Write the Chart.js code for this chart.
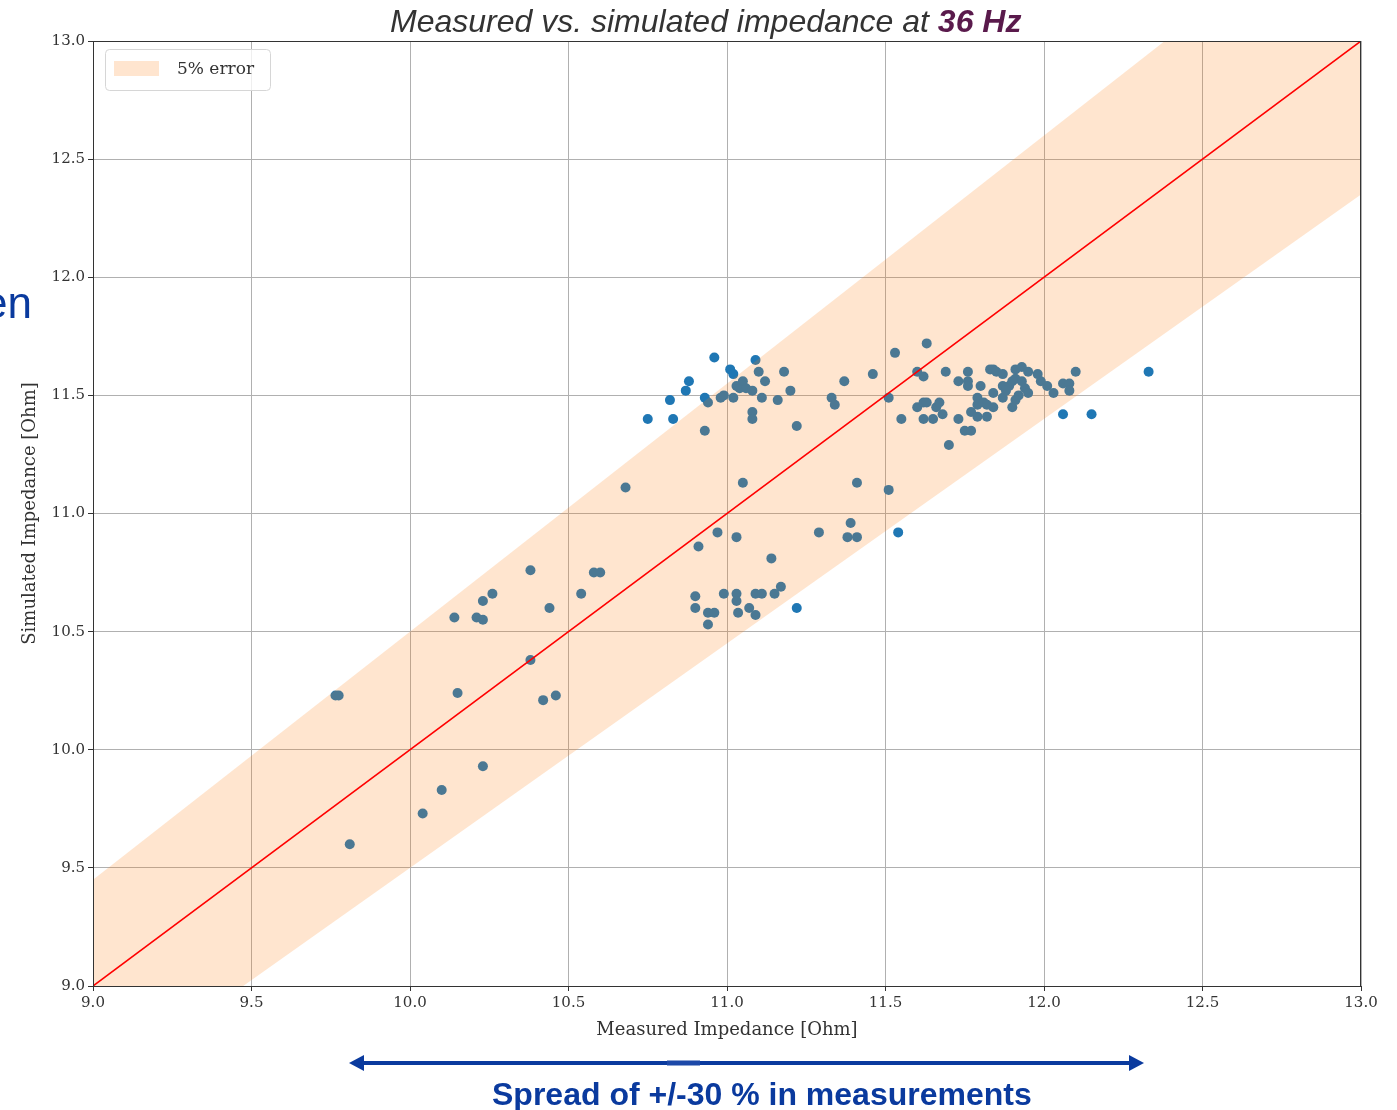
<!DOCTYPE html>
<html lang="en">

<head>
    <meta charset="UTF-8">
    <title>Measured vs. simulated impedance at 36 Hz</title>
    <script src="https://cdn.jsdelivr.net/npm/chart.js"></script>
    <style>
        body {
            margin: 0;
            background: #ffffff;
            width: 1397px;
            height: 1110px;
            position: relative;
            overflow: hidden;
        }

        #impChart {
            position: absolute;
            left: 0;
            top: 0;
        }

        .title {
            position: absolute;
            left: 390px;
            top: 3px;
            font-family: 'Liberation Sans', Arial, sans-serif;
            font-style: italic;
            font-size: 32px;
            color: #333333;
            white-space: nowrap;
        }

        .title b {
            color: #5a1a4c;
        }

        .side {
            position: absolute;
            left: -17px;
            top: 278px;
            font-family: 'Liberation Sans', Arial, sans-serif;
            font-size: 44px;
            color: #0a3a9e;
        }

        .spread {
            position: absolute;
            left: 492px;
            top: 1076px;
            font-family: 'Liberation Sans', Arial, sans-serif;
            font-weight: bold;
            font-size: 32px;
            color: #0a3a9e;
            white-space: nowrap;
        }

        svg {
            position: absolute;
            left: 0;
            top: 0;
        }
    </style>
</head>

<body>
    <canvas id="impChart" width="1397" height="1110"></canvas>
    <div class="title">Measured vs. simulated impedance at <b>36 Hz</b></div>
    <div class="side">en</div>
    <svg width="1397" height="1110">
        <line x1="360" y1="1063" x2="1133" y2="1063" stroke="#0a3a9e" stroke-width="4" />
        <line x1="667" y1="1063" x2="700" y2="1063" stroke="#1c48a8" stroke-width="5" />
        <polygon points="349,1063 364,1055 364,1071" fill="#0a3a9e" />
        <polygon points="1144,1063 1129,1055 1129,1071" fill="#0a3a9e" />
    </svg>
    <div class="spread">Spread of +/-30 % in measurements</div>

    <script>
        // measured / simulated impedance pairs [Ohm]
        const measured = [
            9.765, 9.775, 9.81, 10.04, 10.10, 10.23, 10.15, 10.14, 10.21, 10.23, 10.23, 10.26, 10.38, 10.38,
            10.44, 10.42, 10.46, 10.54, 10.58, 10.60, 10.68,
            11.05, 11.41, 11.51, 10.97, 11.03, 10.91, 11.29, 11.39, 11.38, 11.41, 11.54, 11.14, 10.90, 10.90,
            10.94, 10.96, 10.94, 10.99, 11.03, 11.03, 11.035, 11.07, 11.09, 11.09, 11.11, 11.15, 11.17, 11.22,
            10.75, 10.83, 10.82, 10.87, 10.88, 10.96, 10.93, 10.93, 10.94, 10.98, 10.99, 11.02, 11.01, 11.02,
            11.03, 11.04, 11.05, 11.06, 11.08, 11.09, 11.10, 11.11, 11.12, 11.08, 11.08, 11.16, 11.18, 11.20,
            11.22, 11.33, 11.34, 11.37, 11.46, 11.51, 11.53, 11.55,
            11.63, 11.60, 11.62, 11.63, 11.60, 11.62, 11.62, 11.65, 11.66, 11.68, 11.67, 11.69, 11.70, 11.73,
            11.73, 11.76, 11.76, 11.76, 11.75, 11.77, 11.77, 11.79, 11.79, 11.79, 11.81, 11.80, 11.82, 11.84,
            11.82, 11.83, 11.84, 11.85, 11.87, 11.87, 11.89, 11.88, 11.84, 11.87, 11.91, 11.93, 11.95, 11.98,
            11.91, 11.93, 11.90, 11.94, 11.95, 11.92, 11.91, 11.90, 11.99, 12.01, 12.03, 12.06, 12.08, 12.08,
            12.10, 12.06, 12.15, 12.33
        ];
        const simulated = [
            10.23, 10.23, 9.60, 9.73, 9.83, 9.93, 10.24, 10.56, 10.56, 10.55, 10.63, 10.66, 10.76, 10.38,
            10.60, 10.21, 10.23, 10.66, 10.75, 10.75, 11.11,
            11.13, 11.13, 11.10, 10.92, 10.90, 10.86, 10.92, 10.96, 10.90, 10.90, 10.92, 10.81, 10.65, 10.60,
            10.58, 10.58, 10.53, 10.66, 10.66, 10.63, 10.58, 10.60, 10.57, 10.66, 10.66, 10.66, 10.69, 10.60,
            11.40, 11.40, 11.48, 11.52, 11.56, 11.66, 11.35, 11.49, 11.47, 11.49, 11.50, 11.49, 11.61, 11.59,
            11.54, 11.53, 11.56, 11.53, 11.52, 11.65, 11.60, 11.49, 11.56, 11.43, 11.40, 11.48, 11.60, 11.52,
            11.37, 11.49, 11.46, 11.56, 11.59, 11.49, 11.68, 11.40,
            11.72, 11.45, 11.47, 11.47, 11.60, 11.58, 11.40, 11.40, 11.45, 11.42, 11.47, 11.60, 11.29, 11.40,
            11.56, 11.60, 11.56, 11.54, 11.35, 11.35, 11.43, 11.41, 11.49, 11.46, 11.47, 11.54, 11.46, 11.45,
            11.41, 11.61, 11.61, 11.60, 11.59, 11.54, 11.54, 11.52, 11.51, 11.49, 11.61, 11.62, 11.60, 11.59,
            11.57, 11.56, 11.56, 11.53, 11.51, 11.50, 11.48, 11.45, 11.56, 11.54, 11.51, 11.55, 11.55, 11.52,
            11.60, 11.42, 11.42, 11.60
        ];

        // ideal line and +/-5 % band
        const errorPct = 0.05;
        const lineEnds = [9.0, 13.0];

        const points = measured.map((m, i) => ({ x: m, y: simulated[i] }));
        const ideal = lineEnds.map(v => ({ x: v, y: v }));
        const bandUpper = lineEnds.map(v => ({ x: v, y: v * (1 + errorPct) }));
        const bandLower = lineEnds.map(v => ({ x: v, y: v * (1 - errorPct) }));

        const bandColor = 'rgba(255, 127, 14, 0.2)';
        const serif = "'DejaVu Serif', 'Liberation Serif', serif";

        // matplotlib-like frame + legend inside the axes
        const framePlugin = {
            id: 'frame',
            afterDraw(chart) {
                const { ctx, chartArea: a } = chart;
                ctx.save();
                ctx.strokeStyle = '#333333';
                ctx.lineWidth = 1;
                ctx.strokeRect(a.left + 0.5, a.top + 0.5, a.right - a.left - 1, a.bottom - a.top);

                // legend box
                ctx.beginPath();
                ctx.roundRect(105.5, 49.5, 165, 41, 4);
                ctx.fillStyle = 'rgba(255,255,255,0.8)';
                ctx.fill();
                ctx.strokeStyle = '#d6d6d6';
                ctx.stroke();
                ctx.fillStyle = bandColor;
                ctx.fillRect(114, 61, 45, 15);
                ctx.fillStyle = '#333333';
                ctx.font = '17px ' + serif;
                ctx.textBaseline = 'middle';
                ctx.fillText('5% error', 177, 70);
                ctx.restore();
            }
        };

        const axisCommon = {
            type: 'linear',
            min: 9,
            max: 13,
            grid: {
                color: '#b0b0b0',
                lineWidth: 1,
                tickLength: 5,
                tickColor: '#333333'
            },
            border: { display: true, color: '#333333' },
            ticks: {
                stepSize: 0.5,
                padding: 3,
                color: '#333333',
                font: { family: serif, size: 15 },
                callback: v => v.toFixed(1)
            }
        };

        new Chart(document.getElementById('impChart'), {
            type: 'scatter',
            data: {
                datasets: [
                    {
                        label: 'data',
                        data: points,
                        backgroundColor: '#1f77b4',
                        borderWidth: 0,
                        pointRadius: 5,
                        order: 3
                    },
                    {
                        type: 'line',
                        label: '5% error',
                        data: bandUpper,
                        borderWidth: 0,
                        pointRadius: 0,
                        backgroundColor: bandColor,
                        fill: '+1',
                        order: 2
                    },
                    {
                        type: 'line',
                        label: 'lower',
                        data: bandLower,
                        borderWidth: 0,
                        pointRadius: 0,
                        fill: false,
                        order: 2
                    },
                    {
                        type: 'line',
                        label: 'ideal',
                        data: ideal,
                        borderColor: '#ff0000',
                        borderWidth: 1.6,
                        pointRadius: 0,
                        fill: false,
                        order: 1
                    }
                ]
            },
            options: {
                responsive: false,
                animation: false,
                layout: {
                    padding: { left: 0, right: 36, top: 41, bottom: 64 }
                },
                scales: {
                    x: {
                        ...axisCommon,
                        position: 'bottom',
                        afterFit: s => { s.height = 60; },
                        title: {
                            display: true,
                            text: 'Measured Impedance [Ohm]',
                            color: '#333333',
                            font: { family: serif, size: 18 },
                            padding: { top: 0, bottom: 5 }
                        }
                    },
                    y: {
                        ...axisCommon,
                        position: 'left',
                        afterFit: s => { s.width = 93; },
                        title: {
                            display: true,
                            text: 'Simulated Impedance [Ohm]',
                            color: '#333333',
                            font: { family: serif, size: 18 },
                            padding: { top: 20, bottom: 0 }
                        }
                    }
                },
                plugins: {
                    legend: { display: false },
                    tooltip: { enabled: false }
                }
            },
            plugins: [framePlugin]
        });
    </script>
</body>

</html>
